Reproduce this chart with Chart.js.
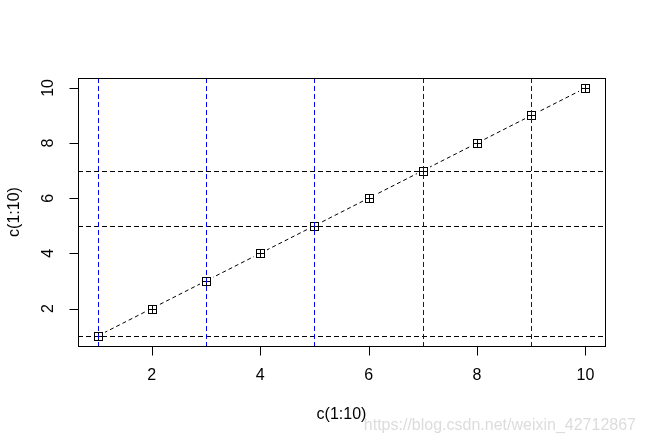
<!DOCTYPE html>
<html>
<head>
<meta charset="utf-8">
<script src="https://cdn.jsdelivr.net/npm/chart.js@4"></script>
<style>
  html, body { margin: 0; padding: 0; background: #fff; }
  #wrap { width: 646px; height: 444px; }
</style>
</head>
<body>
<div id="wrap"><canvas id="myChart" width="646" height="444"></canvas></div>
<script>
// data
let xVals = [1, 2, 3, 4, 5, 6, 7, 8, 9, 10];
let yVals = [1, 2, 3, 4, 5, 6, 7, 8, 9, 10];
let vLines = [1, 3, 5, 7, 9];
let hLines = [1, 5, 7];
let xTicks = [2, 4, 6, 8, 10];
let yTicks = [2, 4, 6, 8, 10];
let xTitle = "c(1:10)";
let yTitle = "c(1:10)";
let watermark = "https://blog.csdn.net/weixin_42712867";

let font = "16px 'Liberation Sans', Arial, sans-serif";

let points = xVals.map((x, i) => ({ x: x, y: yVals[i] }));

let rAxes = {
  id: "rAxes",
  afterDatasetsDraw(chart) {
    let ctx = chart.ctx;
    let a = chart.chartArea;
    let xs = chart.scales.x;
    let ys = chart.scales.y;
    ctx.save();
    ctx.lineWidth = 1;

    // pch 12 markers, white backing leaves the gap of type = "b"
    ctx.strokeStyle = "#000";
    xVals.forEach((v, i) => {
      let px = Math.round(xs.getPixelForValue(v));
      let py = Math.round(ys.getPixelForValue(yVals[i]));
      ctx.fillStyle = "#fff";
      ctx.fillRect(px - 6, py - 6, 13, 13);
      ctx.strokeRect(px - 3.5, py - 3.5, 8, 8);
      ctx.beginPath();
      ctx.moveTo(px + 0.5, py - 3.5);
      ctx.lineTo(px + 0.5, py + 4.5);
      ctx.moveTo(px - 3.5, py + 0.5);
      ctx.lineTo(px + 4.5, py + 0.5);
      ctx.stroke();
    });

    ctx.setLineDash([5, 3]);
    ctx.strokeStyle = "#000";
    hLines.forEach(v => {
      let y = Math.round(ys.getPixelForValue(v)) + 0.5;
      ctx.beginPath();
      ctx.moveTo(a.left, y);
      ctx.lineTo(a.right, y);
      ctx.stroke();
    });
    ctx.strokeStyle = "#0000ff";
    vLines.forEach(v => {
      let x = Math.round(xs.getPixelForValue(v)) + 0.5;
      ctx.beginPath();
      ctx.moveTo(x, a.top);
      ctx.lineTo(x, a.bottom);
      ctx.stroke();
    });
    ctx.setLineDash([]);
    ctx.strokeStyle = "#000";
    ctx.strokeRect(Math.round(a.left) + 0.5, Math.round(a.top) + 0.5,
      Math.round(a.right - a.left), Math.round(a.bottom - a.top));

    ctx.fillStyle = "#000";
    ctx.font = font;
    // x axis
    let by = Math.round(a.bottom) + 0.5;
    ctx.beginPath();
    ctx.moveTo(Math.round(xs.getPixelForValue(xTicks[0])) + 0.5, by);
    ctx.lineTo(Math.round(xs.getPixelForValue(xTicks[xTicks.length - 1])) + 0.5, by);
    xTicks.forEach(v => {
      let x = Math.round(xs.getPixelForValue(v)) + 0.5;
      ctx.moveTo(x, by);
      ctx.lineTo(x, by + 9);
    });
    ctx.stroke();
    ctx.textAlign = "center";
    ctx.textBaseline = "middle";
    xTicks.forEach(v => {
      ctx.fillText(String(v), xs.getPixelForValue(v), 376);
    });
    ctx.fillText(xTitle, (a.left + a.right) / 2, 415);

    // y axis
    let lx = Math.round(a.left) + 0.5;
    ctx.beginPath();
    yTicks.forEach(v => {
      let y = Math.round(ys.getPixelForValue(v)) + 0.5;
      ctx.moveTo(lx, y);
      ctx.lineTo(lx - 9, y);
    });
    ctx.stroke();
    yTicks.forEach(v => {
      ctx.save();
      ctx.translate(49, ys.getPixelForValue(v));
      ctx.rotate(-Math.PI / 2);
      ctx.fillText(String(v), 0, 0);
      ctx.restore();
    });
    ctx.save();
    ctx.translate(15, (a.top + a.bottom) / 2);
    ctx.rotate(-Math.PI / 2);
    ctx.fillText(yTitle, 0, 0);
    ctx.restore();

    // watermark
    ctx.fillStyle = "rgba(205,205,205,0.7)";
    ctx.textAlign = "right";
    ctx.fillText(watermark, 636, 426);
    ctx.restore();
  }
};

let myChart = new Chart(document.getElementById("myChart").getContext("2d"), {
  type: "line",
  data: {
    datasets: [
      {
        label: "c(1:10)",
        data: points,
        borderColor: "#000",
        borderWidth: 1,
        borderDash: [4, 3],
        pointRadius: 0,
        pointHoverRadius: 0,
        tension: 0,
        fill: false,
      },
    ],
  },
  options: {
    responsive: false,
    animation: false,
    events: [],
    layout: { padding: { left: 78, top: 78, right: 41, bottom: 98 } },
    plugins: { legend: { display: false }, tooltip: { enabled: false } },
    scales: {
      x: { type: "linear", min: 0.64, max: 10.36, display: false },
      y: { type: "linear", min: 0.64, max: 10.36, display: false },
    },
  },
  plugins: [rAxes],
});
</script>
</body>
</html>
